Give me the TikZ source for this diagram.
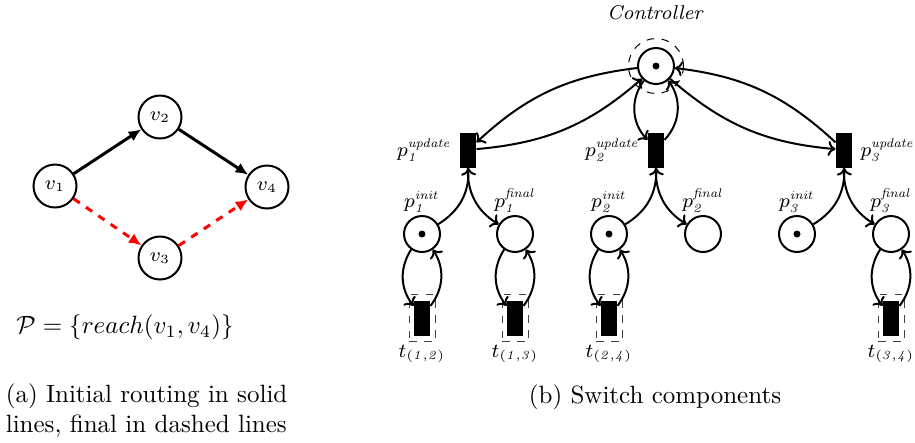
\documentclass[tikz,border=0pt]{standalone}
\usepackage{amsmath,amssymb}
\usetikzlibrary{arrows.meta,positioning}
\DeclareMathSizes{8}{8}{5.4}{5}

\begin{document}
\begin{tikzpicture}[x=0.4pt,y=-0.4pt,
    vertex/.style={circle, draw, thick, minimum size=17.2pt, inner sep=0pt, font=\footnotesize},
    route/.style={very thick, -{Latex[length=5pt,width=4.5pt]}},
    newroute/.style={route, red, dashed},
    place/.style={circle, draw, thick, minimum size=14.4pt, inner sep=0pt},
    trans/.style={rectangle, fill=black, minimum width=6.4pt, minimum height=14pt, inner sep=0pt},
    tbox/.style={rectangle, draw=black!75, dashed, minimum width=10.4pt, minimum height=18.8pt, inner sep=0pt},
    ring/.style={circle, draw, dashed, minimum size=22pt, inner sep=0pt},
    flow/.style={thick, -{To[length=3pt,width=6pt]}},
    lbl/.style={font=\footnotesize, inner sep=1pt}
]
    \useasboundingbox (0,0) rectangle (915,442);

    % Routing graph
    \node[vertex] (v1) at (55,186) {$v_1$};
    \node[vertex] (v2) at (160,117) {$v_2$};
    \node[vertex] (v3) at (160,258) {$v_3$};
    \node[vertex] (v4) at (267,187) {$v_4$};
    \draw[route] (v1) -- (v2);
    \draw[route] (v2) -- (v4);
    \draw[newroute] (v1) -- (v3);
    \draw[newroute] (v3) -- (v4);

    % Property and caption
    \node (prop) at (125,327) {$\mathcal{P} = \{reach(v_1, v_4)\}$};
    \node[anchor=west, align=left] (capa) at (-3,411) {(a) Initial routing in solid\\lines, final in dashed lines};

    % Controller place
    \node[ring] (ctrlring) at (656,66) {};
    \node[place, label={[lbl, label distance=10pt]above:{$\mathit{Controller}$}}] (ctrl) at (656,66) {};

    % Update transitions
    \node[trans, label={[lbl, label distance=2pt]left:{$p_{\mathit{1}}^{\mathit{update}}$}}] (p1u) at (468,150) {};
    \node[trans, label={[lbl, label distance=2pt]left:{$p_{\mathit{2}}^{\mathit{update}}$}}] (p2u) at (656,150) {};
    \node[trans, label={[lbl, label distance=2pt]right:{$p_{\mathit{3}}^{\mathit{update}}$}}] (p3u) at (844,150) {};

    % Init and final places
    \node[place, label={[lbl]above:{$p_{\mathit{1}}^{\mathit{init}}$}}] (p1i) at (422,234) {};
    \node[place, label={[lbl]above:{$p_{\mathit{1}}^{\mathit{final}}$}}] (p1f) at (515,234) {};
    \node[place, label={[lbl]above:{$p_{\mathit{2}}^{\mathit{init}}$}}] (p2i) at (609,234) {};
    \node[place, label={[lbl]above:{$p_{\mathit{2}}^{\mathit{final}}$}}] (p2f) at (703,234) {};
    \node[place, label={[lbl]above:{$p_{\mathit{3}}^{\mathit{init}}$}}] (p3i) at (797,234) {};
    \node[place, label={[lbl]above:{$p_{\mathit{3}}^{\mathit{final}}$}}] (p3f) at (891,234) {};

    % Tokens
    \fill (ctrl.center) circle[radius=1.4pt];
    \fill (p1i.center) circle[radius=1.4pt];
    \fill (p2i.center) circle[radius=1.4pt];
    \fill (p3i.center) circle[radius=1.4pt];

    % Switch transitions
    \node[tbox, label={[lbl]below:{$t_{\mathit{(1,2)}}$}}] (t12box) at (422,318) {};
    \node[tbox, label={[lbl]below:{$t_{\mathit{(1,3)}}$}}] (t13box) at (515,318) {};
    \node[tbox, label={[lbl]below:{$t_{\mathit{(2,4)}}$}}] (t24box) at (609,318) {};
    \node[tbox, label={[lbl]below:{$t_{\mathit{(3,4)}}$}}] (t34box) at (891,318) {};
    \node[trans] (t12) at (422,318) {};
    \node[trans] (t13) at (515,318) {};
    \node[trans] (t24) at (609,318) {};
    \node[trans] (t34) at (891,318) {};

    % Controller arcs
    \draw[flow] (ctrl) to[bend right=18] (p1u);
    \draw[flow] (p1u) to[bend right=18] (ctrl);
    \draw[flow] (ctrl) to[bend right=40] (p2u);
    \draw[flow] (p2u) to[bend right=40] (ctrl);
    \draw[flow] (ctrl) to[bend right=18] (p3u);
    \draw[flow] (p3u) to[bend right=18] (ctrl);

    % Update arcs
    \draw[flow] (p1i) to[bend right=30] (p1u);
    \draw[flow] (p1u) to[bend right=30] (p1f);
    \draw[flow] (p2i) to[bend right=30] (p2u);
    \draw[flow] (p2u) to[bend right=30] (p2f);
    \draw[flow] (p3i) to[bend right=30] (p3u);
    \draw[flow] (p3u) to[bend right=30] (p3f);

    % Switch loops
    \draw[flow] (p1i) to[bend right=35] (t12);
    \draw[flow] (t12) to[bend right=35] (p1i);
    \draw[flow] (p1f) to[bend right=35] (t13);
    \draw[flow] (t13) to[bend right=35] (p1f);
    \draw[flow] (p2i) to[bend right=35] (t24);
    \draw[flow] (t24) to[bend right=35] (p2i);
    \draw[flow] (p3f) to[bend right=35] (t34);
    \draw[flow] (t34) to[bend right=35] (p3f);

    % Caption
    \node (capb) at (655,397) {(b) Switch components};
\end{tikzpicture}
\end{document}
